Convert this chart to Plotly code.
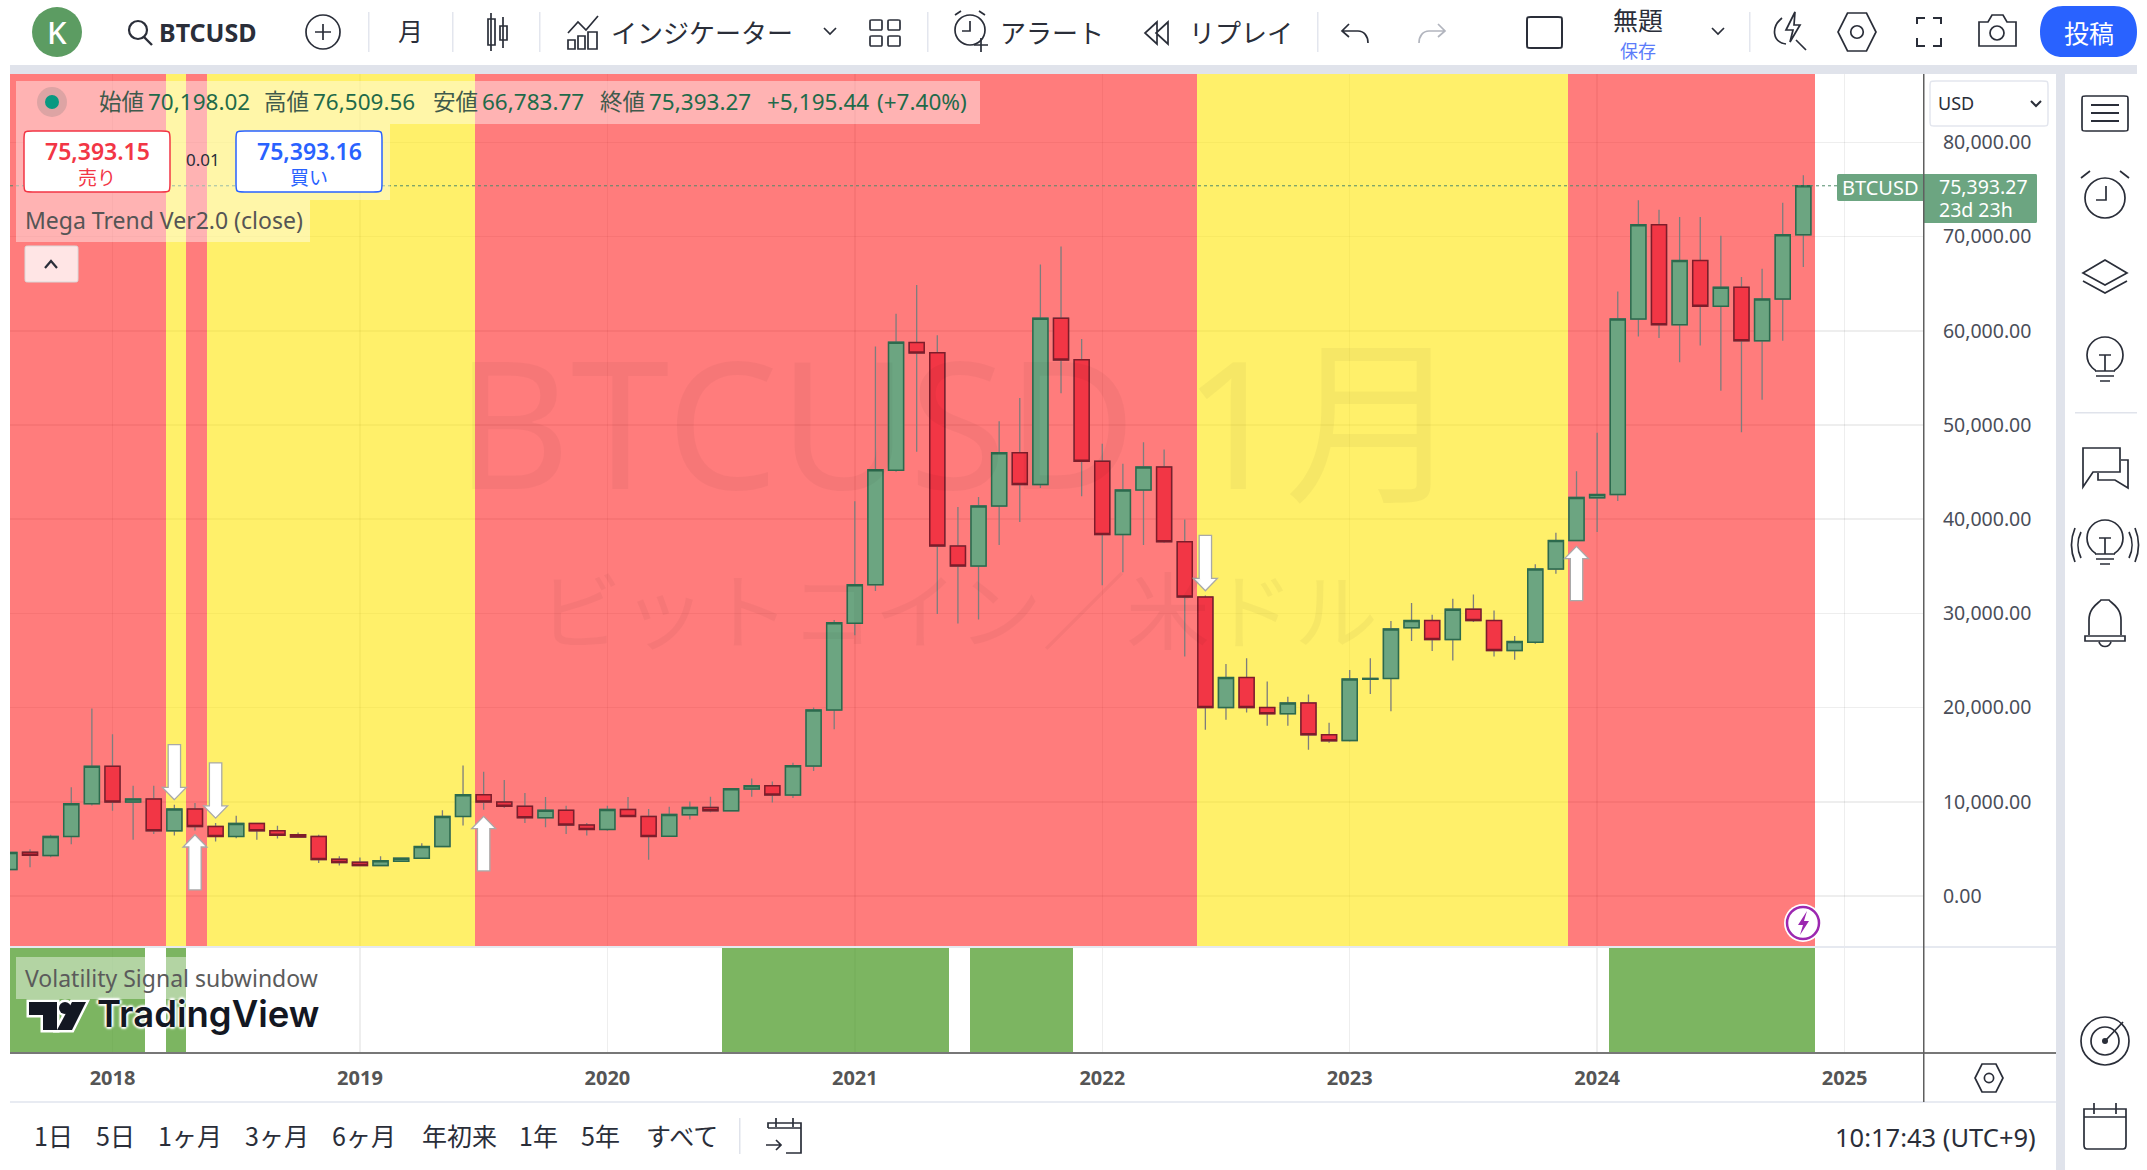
import plotly.graph_objects as go

W, H = 2147, 1170

months = [f"{y}-{m:02d}" for y in range(2017, 2025) for m in range(1, 13)][7:95]

opens = [2800, 4650, 4300, 6320, 9800,
         13770, 9975, 10300, 6920, 9230, 7380, 6320, 7700, 6920, 6500, 6320, 3905,
         3585, 3230, 3690, 4010, 5250, 8450, 10750, 9975, 9515, 8310, 9090, 7525,
         7065, 9195, 8450, 6350, 8620, 9400, 9040, 11350, 11700, 10710, 13790, 19750,
         28950, 33050, 45200, 58750, 57680, 37150, 35030, 41400, 47060, 43680, 61330, 56930,
         46150, 38370, 43110, 45540, 37610, 31730, 20000, 23190, 20000, 19350, 20490, 17120,
         16500, 23000, 23100, 28480, 29240, 27230, 30450, 29240, 26060, 26950, 34700, 37730,
         42270, 42610, 61250, 71250, 60650, 67460, 62610, 64620, 58940, 63370, 70198]
highs = [4700, 4970, 6500, 11540, 19915,
         17180, 11715, 11715, 9690, 9870, 7740, 8520, 7700, 7455, 6745, 6500, 4225,
         4080, 4225, 4080, 5610, 9090, 13845, 13200, 12320, 10930, 10510, 9585, 7740,
         9585, 10510, 9230, 9470, 10035, 10530, 11380, 12480, 12160, 14150, 20000, 29300,
         41900, 58330, 61820, 64860, 59540, 41290, 42350, 50400, 52860, 67030, 68950, 59130,
         48010, 45880, 48160, 47400, 39960, 31900, 24630, 25240, 22770, 21140, 21400, 18400,
         23980, 25240, 29180, 31100, 29850, 31550, 32000, 30300, 27610, 35230, 38560, 45080,
         49170, 64170, 73870, 72840, 72090, 72090, 70080, 65720, 66590, 73600, 76509.56]
lows = [2750, 3050, 4120, 5500, 9620,
        9050, 5960, 6570, 6425, 6960, 5785, 6140, 5960, 6100, 6210, 3515, 3230,
        3195, 3230, 3650, 3980, 5200, 7490, 9160, 9340, 7740, 7310, 6570, 6425,
        6920, 8400, 3835, 6300, 8120, 8900, 9000, 10530, 9930, 10390, 13260, 17690,
        27670, 32370, 45050, 47170, 29940, 28920, 29340, 37270, 39700, 43300, 53360, 42430,
        32980, 34380, 37270, 37500, 25430, 17650, 18710, 19470, 18060, 18060, 15520, 16280,
        16400, 21440, 19620, 27080, 26020, 25000, 29090, 25420, 25080, 26780, 34200, 37700,
        38640, 41930, 59400, 59240, 56670, 58450, 53640, 49240, 52690, 58940, 66783.77]
closes = [4620, 4330, 6320, 9800, 13770,
          9975, 10300, 6920, 9230, 7380, 6320, 7700, 6920, 6460, 6250, 3870, 3550,
          3230, 3730, 4010, 5250, 8450, 10750, 9975, 9515, 8310, 9090, 7525, 7065,
          9195, 8450, 6320, 8650, 9400, 9040, 11380, 11700, 10710, 13830, 19750, 29000,
          33050, 45240, 58785, 57650, 37150, 35030, 41400, 47060, 43680, 61330, 56890, 46150,
          38370, 43110, 45540, 37610, 31730, 20000, 23190, 20000, 19350, 20490, 17120, 16470,
          23030, 23100, 28350, 29240, 27230, 30450, 29240, 26060, 27010, 34700, 37730, 42310,
          42610, 61250, 71250, 60650, 67460, 62610, 64620, 58940, 63370, 70190, 75393.27]

# one letter per month, Aug 2017 .. Nov 2024: R = red regime, Y = yellow regime
regime = list("RRRRR" "RRRYRYYYYYYY" "YYYYYYRRRRRR" "RRRRRRRRRRRR"
              "RRRRRRRRRRRR" "RRRRRYYYYYYY" "YYYYYYYYYYYR" "RRRRRRRRRRR")
# one flag per month: green block in the Volatility Signal pane
signal = [1, 1, 1, 1, 1,
          1, 1, 0, 1, 0, 0, 0, 0, 0, 0, 0, 0,
          0, 0, 0, 0, 0, 0, 0, 0, 0, 0, 0, 0,
          0, 0, 0, 0, 0, 0, 1, 1, 1, 1, 1, 1,
          1, 1, 1, 1, 1, 0, 1, 1, 1, 1, 1, 0,
          0, 0, 0, 0, 0, 0, 0, 0, 0, 0, 0, 0,
          0, 0, 0, 0, 0, 0, 0, 0, 0, 0, 0, 0,
          0, 1, 1, 1, 1, 1, 1, 1, 1, 1, 1]

arrow_months = ["2018-04", "2018-06", "2018-05", "2019-07", "2022-06", "2023-12"]
arrow_tips = [10224, 8270, 6500, 8450, 32410, 37120]
arrow_tails = [16080, 14130, 640, 2660, 38290, 31360]

year_labels = ["2018", "2019", "2020", "2021", "2022", "2023", "2024", "2025"]
year_months = ["2018-01", "2019-01", "2020-01", "2021-01", "2022-01", "2023-01", "2024-01"]
price_ticks = [0, 10000, 20000, 30000, 40000, 50000, 60000, 70000, 80000]
range_buttons = ["1日", "5日", "1ヶ月", "3ヶ月", "6ヶ月", "年初来", "1年", "5年", "すべて"]

last_price = closes[-1]
PY_TOP, PY_BOT = 87261, -5308

# ---------------- helpers in page pixels ----------------
shapes, notes = [], []
SANS = '"Noto Sans", "Noto Sans CJK JP", sans-serif'
CJK = '"Noto Sans CJK JP", "Noto Sans", sans-serif'
INK = "#2a2e39"


def fx(x):
    return x / W


def fy(y):
    return 1 - y / H


def rect(x0, y0, x1, y1, fill=None, line=None, lw=1, layer="above"):
    shapes.append(dict(type="rect", xref="paper", yref="paper", x0=fx(x0), x1=fx(x1), y0=fy(y0), y1=fy(y1),
                       fillcolor=fill or "rgba(0,0,0,0)", line=dict(color=line or "rgba(0,0,0,0)", width=lw if line else 0),
                       layer=layer))


def circ(cx, cy, r, fill=None, line=None, lw=1.7):
    if not fill and not line:
        line = INK
    shapes.append(dict(type="circle", xref="paper", yref="paper", x0=fx(cx - r), x1=fx(cx + r), y0=fy(cy - r), y1=fy(cy + r),
                       fillcolor=fill or "rgba(0,0,0,0)", line=dict(color=line or "rgba(0,0,0,0)", width=lw if line else 0)))


def pth(d, fill=None, line=INK, lw=1.7):
    toks, out, isx = d.split(), [], True
    for t in toks:
        if t.isalpha():
            out.append(t)
            isx = True
        else:
            out.append(f"{fx(float(t)):.6f}" if isx else f"{fy(float(t)):.6f}")
            isx = not isx
    shapes.append(dict(type="path", xref="paper", yref="paper", path=" ".join(out),
                       fillcolor=fill or "rgba(0,0,0,0)", line=dict(color=line or "rgba(0,0,0,0)", width=lw if line else 0)))


def rrect(x0, y0, x1, y1, r=6, fill=None, line=None, lw=1.5):
    pth(f"M {x0+r} {y0} L {x1-r} {y0} C {x1} {y0} {x1} {y0} {x1} {y0+r} L {x1} {y1-r} C {x1} {y1} {x1} {y1} {x1-r} {y1} "
        f"L {x0+r} {y1} C {x0} {y1} {x0} {y1} {x0} {y1-r} L {x0} {y0+r} C {x0} {y0} {x0} {y0} {x0+r} {y0} Z",
        fill=fill, line=line, lw=lw)


def txt(x, y, s, size=20, color=INK, anchor="left", family=SANS, weight=None, shadow=None):
    font = dict(size=size, color=color, family=family)
    if weight:
        font["weight"] = weight
    if shadow:
        font["shadow"] = shadow
    notes.append(dict(xref="paper", yref="paper", x=fx(x), y=fy(y), text=s, showarrow=False,
                      xanchor=anchor, yanchor="middle", font=font, borderpad=0, borderwidth=0))


# ---------------- panels ----------------
rect(10, 65, 2137, 74, fill="#e0e3eb")
rect(2056, 74, 2065, H, fill="#e0e3eb")
rect(10, 1101, 2056, 1103, fill="#e8ebf2")
rect(10, 946, 2056, 948, fill="#e6e9f0")
rect(10, 1052, 2056, 1054, fill="#777777")

# ---------------- watermark ----------------
txt(958, 420, "BTCUSD 1月", size=178, color="rgba(0,0,0,0.035)", anchor="center", family=SANS)
txt(958, 606, "ビットコイン／米ドル", size=84, color="rgba(0,0,0,0.035)", anchor="center", family=CJK)

# ---------------- legend strips ----------------
rect(16, 81, 980, 124, fill="rgba(255,255,255,0.42)")
rect(16, 124, 390, 200, fill="rgba(255,255,255,0.42)")
rect(16, 200, 310, 242, fill="rgba(255,255,255,0.42)")
circ(52, 102, 15, fill="rgba(120,120,120,0.25)")
circ(52, 102, 7, fill="#089981")
LAB, VAL = "#3f5a4c", "#1f6a4a"
for x, s, c in [(99, "始値", LAB), (148, "70,198.02", VAL), (264, "高値", LAB), (313, "76,509.56", VAL),
                (433, "安値", LAB), (482, "66,783.77", VAL), (600, "終値", LAB), (649, "75,393.27", VAL),
                (767, "+5,195.44", VAL), (877, "(+7.40%)", VAL)]:
    txt(x, 101, s, size=22.5, color=c)
for x0, s, t, c in [(24, "75,393.15", "売り", "#f23645"), (236, "75,393.16", "買い", "#2962ff")]:
    rrect(x0, 131, x0 + 146, 192, r=9, fill="#ffffff", line=c)
    txt(x0 + 73, 151, s, size=23, color=c, anchor="center", weight=600)
    txt(x0 + 73, 176, t, size=19, color=c, anchor="center", family=CJK)
txt(203, 160, "0.01", size=17, color=INK, anchor="center")
txt(25, 220, "Mega Trend Ver2.0 (close)", size=23, color="#555555")
rrect(25, 246, 78, 282, r=4, fill="rgba(255,255,255,0.8)", line="#d8d8d8", lw=1)
pth("M 45 268 L 51 261 L 57 268", lw=2.2)

# ---------------- price labels ----------------
rrect(1837, 174, 1930, 201, r=4, fill="#6ca581")
txt(1880, 188, "BTCUSD", size=20, color="#ffffff", anchor="center")
rrect(1923, 174, 2037, 223, r=3, fill="#6ca581")
rect(1923, 74, 1924.5, 1102, fill="#5f5f5f")
txt(1939, 186, "75,393.27", size=19.5, color="#ffffff")
txt(1939, 209, "23d 23h", size=19.5, color="#ffffff")
rrect(1930, 81, 2048, 126, r=6, fill="#ffffff", line="#e3e6ee", lw=1.5)
txt(1938, 103, "USD", size=18, color=INK)
pth("M 2031 101 L 2036 106 L 2041 101", lw=2)

# lightning badge
circ(1803, 923, 19, fill="#ffffff")
circ(1803, 923, 16, fill="#ffffff", line="#9c27b0", lw=2.5)
pth("M 1807 911 L 1798 925 L 1803 925 L 1800 935 L 1809 921 L 1804 921 Z", fill="#9c27b0", line=None)

# sub pane text + logo
rect(16, 957, 320, 999, fill="rgba(255,255,255,0.42)")
txt(25, 978, "Volatility Signal subwindow", size=23, color="#5b5b5b")
for lw, col in [(5, "#ffffff"), (0, "#131722")]:
    pth("M 29 1002 L 57 1002 L 57 1030 L 43 1030 L 43 1015 L 29 1015 Z", fill="#131722" if lw == 0 else "#ffffff",
        line=None if lw == 0 else col, lw=lw)
    pth("M 72 1002 L 86 1002 L 72 1030 L 57 1030 Z", fill="#131722" if lw == 0 else "#ffffff",
        line=None if lw == 0 else col, lw=lw)
    circ(65, 1008, 6, fill="#131722" if lw == 0 else "#ffffff", line=None if lw == 0 else col, lw=lw)
txt(97, 1014, "TradingView", size=36.5, color="#131722", family="Inter, Roboto, sans-serif", weight=600,
    shadow="2px 0 2px #fff, -2px 0 2px #fff, 0 2px 2px #fff, 0 -2px 2px #fff")


# hexagon helper for settings icons
def hexa(cx, cy, r, inner=True):
    a, b = r * 0.87, r * 0.5
    pth(f"M {cx-b} {cy-a-r*0.13} L {cx+b} {cy-a-r*0.13} L {cx+r} {cy} L {cx+b} {cy+a+r*0.13} L {cx-b} {cy+a+r*0.13} L {cx-r} {cy} Z")
    if inner:
        circ(cx, cy, r * 0.33, line=INK)


hexa(1989, 1078, 14)

# ---------------- bottom bar ----------------
for x, s in zip([53, 115, 190, 277, 364, 459, 538, 600, 682], range_buttons):
    txt(x, 1135, s, size=25, color=INK, anchor="center", family=CJK)
rect(739, 1118, 740.5, 1154, fill="#e0e3eb")
pth("M 768 1128 L 768 1123 L 801 1123 L 801 1153 L 786 1153")
pth("M 768 1128 L 801 1128 M 776 1118 L 776 1127 M 793 1118 L 793 1127 M 766 1145 L 781 1145 M 776 1140 L 781 1145 L 776 1150")
txt(2036, 1137, "10:17:43 (UTC+9)", size=25.5, color=INK, anchor="right")

# ---------------- top toolbar ----------------
circ(57, 32, 25, fill="#5c9c62")
txt(57, 32, "K", size=31, color="#ffffff", anchor="center", weight=500)
circ(138, 30, 9, line=INK, lw=2.2)
pth("M 144 37 L 152 45", lw=2.4)
txt(159, 32, "BTCUSD", size=25, color=INK, weight=700)
circ(323, 32, 17)
pth("M 323 24 L 323 40 M 315 32 L 331 32")
for x in [368, 452, 539, 927, 1317, 1749]:
    rect(x, 12, x + 1.5, 52, fill="#e3e6ee")
txt(410, 30, "月", size=25, color=INK, anchor="center", family=CJK)
# candle icon
rect(488, 19, 495, 45, line=INK, lw=1.7)
rect(500, 26, 507, 40, line=INK, lw=1.7)
pth("M 491 13 L 491 51 M 503 17 L 503 48")
# indicators
pth("M 568 33 L 578 22 L 586 30 L 598 16")
pth("M 568 49 L 568 40 L 575 40 L 575 49 Z M 578 49 L 578 36 L 585 36 L 585 49 Z M 588 49 L 588 32 L 597 32 L 597 49 Z")
txt(611, 31, "インジケーター", size=26, color=INK, family=CJK)
pth("M 824 28 L 830 34 L 836 28")
for a, b in [(870, 20), (888, 20), (870, 36), (888, 36)]:
    rrect(a, b, a + 12, b + 10, r=2, line=INK, lw=1.7)
# alert
circ(970, 30, 15)
pth("M 970 21 L 970 31 L 962 31 M 955 15 L 961 11 M 985 15 L 979 11 M 974 45 L 988 45 M 981 38 L 981 52")
txt(1000, 31, "アラート", size=26, color=INK, family=CJK)
pth("M 1157 22 L 1145 33 L 1157 44 Z M 1168 22 L 1156 33 L 1168 44 Z")
txt(1189, 31, "リプレイ", size=26, color=INK, family=CJK)
pth("M 1349 24 L 1342 31 L 1349 37 M 1343 31 L 1358 31 C 1364 31 1368 36 1368 43")
pth("M 1438 24 L 1445 31 L 1438 37 M 1444 31 L 1429 31 C 1423 31 1419 36 1419 43", line="#b2b5be")
rrect(1527, 17, 1562, 48, r=4, line=INK, lw=2)
txt(1638, 19, "無題", size=25, color=INK, anchor="center", family=CJK)
txt(1638, 50, "保存", size=18, color="#5c7cfa", anchor="center", family=CJK)
pth("M 1712 28 L 1718 34 L 1724 28")
# quick search bolt
pth("M 1795 12 L 1786 30 L 1793 30 L 1790 42 L 1800 25 L 1794 25 Z")
pth("M 1782 18 C 1771 27 1772 42 1786 44 M 1796 40 L 1806 50")
hexa(1857, 32, 19)
pth("M 1917 24 L 1917 18 L 1925 18 M 1933 18 L 1941 18 L 1941 24 M 1941 38 L 1941 46 L 1933 46 M 1925 46 L 1917 46 L 1917 38", lw=2)
pth("M 1979 22 L 1988 22 L 1992 15 L 2003 15 L 2007 22 L 2016 22 L 2016 46 L 1979 46 Z")
circ(1997, 33, 7)
pth("M 2063 6 L 2114 6 C 2130 6 2137 18 2137 32 C 2137 46 2130 57 2114 57 L 2063 57 C 2047 57 2040 46 2040 32 C 2040 18 2047 6 2063 6 Z",
    fill="#2962ff", line=None)
txt(2089, 32, "投稿", size=25, color="#ffffff", anchor="center", family=CJK)

# ---------------- right sidebar ----------------
cx = 2105
rrect(cx - 23, 96, cx + 23, 131, r=4, line=INK, lw=1.7)
pth(f"M {cx-14} 105 L {cx+14} 105 M {cx-14} 113 L {cx+14} 113 M {cx-14} 121 L {cx+14} 121", lw=2)
circ(cx, 198, 20)
pth(f"M {cx+1} 186 L {cx+1} 200 L {cx-9} 200 M {cx-24} 178 L {cx-15} 171 M {cx+24} 178 L {cx+15} 171")
pth(f"M {cx} 260 L {cx+22} 273 L {cx} 285 L {cx-22} 273 Z M {cx-22} 281 L {cx} 293 L {cx+22} 281")
for by in [362, 545]:
    circ(cx, by - 7, 18)
    rect(cx - 9, by + 6, cx + 9, by + 22, fill="#ffffff")
    pth(f"M {cx} {by+9} L {cx} {by-7} M {cx-6} {by-7} L {cx+6} {by-7} M {cx-10} {by+9} L {cx+10} {by+9} M {cx-9} {by+14} L {cx+9} {by+14} M {cx-5} {by+19} L {cx+5} {by+19}")
rect(2075, 412, 2137, 413.5, fill="#e0e3eb")
pth(f"M {cx-22} 487 L {cx-22} 448 L {cx+15} 448 L {cx+15} 472 L {cx-12} 472 Z")
pth(f"M {cx+16} 460 L {cx+23} 460 L {cx+23} 488 L {cx+10} 480 L {cx-7} 480 L {cx-7} 473")
for s in (-1, 1):
    pth(f"M {cx+s*24} 532 C {cx+s*28} 540 {cx+s*28} 550 {cx+s*24} 558 M {cx+s*30} 528 C {cx+s*35} 540 {cx+s*35} 550 {cx+s*30} 562")
pth(f"M {cx-16} 635 L {cx-16} 620 C {cx-16} 607 {cx-6} 603 {cx-4} 600 L {cx+4} 600 C {cx+6} 603 {cx+16} 607 {cx+16} 620 L {cx+16} 635")
pth(f"M {cx-20} 636 L {cx+20} 636 L {cx+20} 641 L {cx-20} 641 Z M {cx-6} 642 C {cx-4} 648 {cx+4} 648 {cx+6} 642")
circ(cx, 1041, 24)
circ(cx, 1041, 14)
circ(cx, 1041, 3, fill=INK)
pth(f"M {cx} 1041 L {cx+18} 1022")
pth(f"M {cx-21} 1109 L {cx+21} 1109 L {cx+21} 1145 C {cx+21} 1148 {cx+20} 1149 {cx+18} 1149 L {cx-18} 1149 C {cx-20} 1149 {cx-21} 1148 {cx-21} 1145 Z M {cx-21} 1117 L {cx+21} 1117")
pth(f"M {cx-11} 1103 L {cx-11} 1114 M {cx+11} 1103 L {cx+11} 1114")

# ---------------- data marks ----------------
idx = list(range(len(months)))
pos = {m: i for i, m in enumerate(months)}
band_colors = {"R": "rgba(255,0,0,0.515)", "Y": "rgba(255,229,0,0.584)"}

fig = go.Figure()
fig.add_trace(go.Bar(x=idx, y=[PY_TOP - PY_BOT] * len(idx), base=[PY_BOT] * len(idx), width=1, offset=-0.42,
                     marker=dict(color=[band_colors[r] for r in regime], line=dict(width=0)),
                     hoverinfo="skip", showlegend=False, xaxis="x", yaxis="y"))
# wicks
fig.add_trace(go.Candlestick(x=idx, open=opens, high=highs, low=lows, close=closes, xaxis="x", yaxis="y",
                             increasing=dict(line=dict(color="#7d7d7d", width=1.3), fillcolor="#6ca581"),
                             decreasing=dict(line=dict(color="#7d7d7d", width=1.3), fillcolor="#f23645"),
                             showlegend=False, hoverinfo="skip"))
# bodies
fig.add_trace(go.Candlestick(x=idx, open=opens, close=closes,
                             high=[max(a, b) for a, b in zip(opens, closes)],
                             low=[min(a, b) for a, b in zip(opens, closes)], xaxis="x", yaxis="y",
                             increasing=dict(line=dict(color="#2c6a4d", width=1.5), fillcolor="#6ca581"),
                             decreasing=dict(line=dict(color="#7e1c2a", width=1.5), fillcolor="#f23645"),
                             showlegend=False, hoverinfo="skip"))
X0 = 5 + (10 - 112.5) / 20.62
X1 = 5 + (1923 - 112.5) / 20.62
fig.add_trace(go.Scatter(x=[X0, X1], y=[last_price, last_price], mode="lines",
                         line=dict(color="#4f8a6a", width=1, dash="dot"), showlegend=False, hoverinfo="skip",
                         xaxis="x", yaxis="y"))
fig.add_trace(go.Bar(x=idx, y=signal, width=1, offset=-0.42,
                     marker=dict(color="rgba(76,153,39,0.73)", line=dict(width=0)),
                     hoverinfo="skip", showlegend=False, xaxis="x2", yaxis="y2"))

# arrows (anchored to price axis)
HEAD_P, HW, SW = 1300, 0.58, 0.30
for m, tip, tail in zip(arrow_months, arrow_tips, arrow_tails):
    c = pos[m]
    d = 1 if tail > tip else -1
    neck = tip + d * HEAD_P
    p = (f"M {c} {tip} L {c-HW} {neck} L {c-SW} {neck} L {c-SW} {tail} L {c+SW} {tail} L {c+SW} {neck} L {c+HW} {neck} Z")
    shapes.append(dict(type="path", xref="x", yref="y", path=p, fillcolor="#ffffff",
                       line=dict(color="#a9a9a9", width=1.3), layer="above"))

grid = "rgba(0,0,0,0.065)"
tick_pos = [pos[m] for m in year_months] + [pos[year_months[-1]] + 12]
fig.update_layout(
    width=W, height=H, margin=dict(l=0, r=0, t=0, b=0), paper_bgcolor="#ffffff", plot_bgcolor="#ffffff",
    autosize=False, barmode="overlay", bargap=0, boxmode="overlay", boxgap=0.27, boxgroupgap=0, showlegend=False,
    dragmode=False, shapes=shapes, annotations=notes, hovermode=False,
    xaxis=dict(domain=[fx(10), fx(1923)], range=[X0, X1], anchor="y", rangeslider=dict(visible=False),
               tickmode="array", tickvals=tick_pos, showticklabels=False, showgrid=True, gridcolor=grid, gridwidth=1.5,
               zeroline=False, ticks=""),
    yaxis=dict(domain=[fy(946), fy(74)], range=[PY_BOT, PY_TOP], anchor="x", side="right", tickmode="array",
               tickvals=price_ticks, tickformat=",.2f", showgrid=True, gridcolor=grid, gridwidth=1.5, zeroline=False,
               ticks="outside", ticklen=15, tickcolor="rgba(0,0,0,0)", tickfont=dict(size=19.5, color="#4a4e59", family=SANS)),
    xaxis2=dict(domain=[fx(10), fx(1923)], range=[X0, X1], anchor="y2", tickmode="array", tickvals=tick_pos,
                ticktext=year_labels, showgrid=True, gridcolor=grid, gridwidth=1.5, zeroline=False,
                ticks="outside", ticklen=7, tickcolor="rgba(0,0,0,0)",
                tickfont=dict(size=20, color="#555555", family=SANS, weight=700)),
    yaxis2=dict(domain=[fy(1053), fy(948)], range=[0, 1], anchor="x2", showticklabels=False, showgrid=False,
                zeroline=False, ticks=""),
)

fig.write_html("out.html", config=dict(displayModeBar=False, staticPlot=True),
               post_script="document.body.style.margin='0';document.body.style.overflow='hidden';")
